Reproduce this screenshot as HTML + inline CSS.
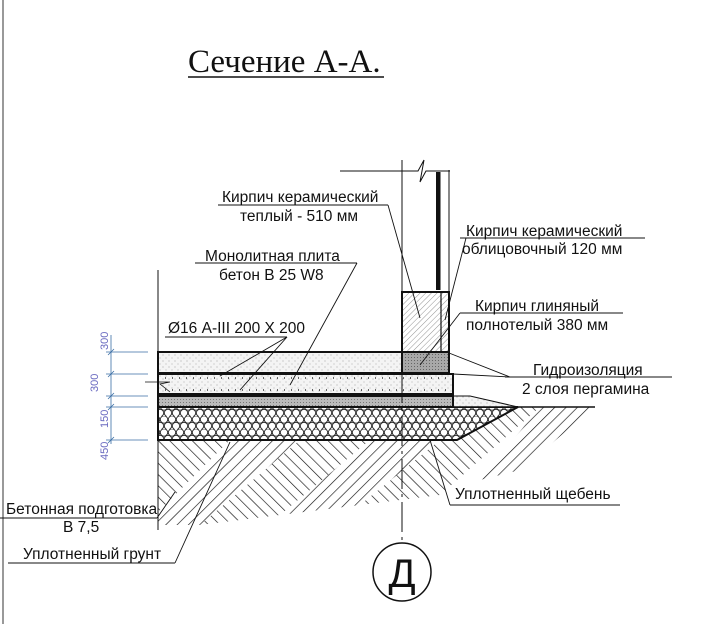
<!DOCTYPE html>
<html><head><meta charset="utf-8"><style>
html,body{margin:0;padding:0;background:#fff}
svg{display:block}
text{font-family:"Liberation Sans",sans-serif;font-size:15.5px;fill:#111}
</style></head><body>
<svg width="702" height="624" viewBox="0 0 702 624" xmlns="http://www.w3.org/2000/svg">
<defs>
<pattern id="dots" width="6" height="6" patternUnits="userSpaceOnUse">
<rect width="6" height="6" fill="#f4f4f4"/><circle cx="1" cy="1" r="0.5" fill="#888"/><circle cx="4" cy="4" r="0.5" fill="#999"/></pattern>
<pattern id="gray" width="3" height="3" patternUnits="userSpaceOnUse">
<rect width="3" height="3" fill="#bbb"/><rect width="1" height="1" fill="#777"/></pattern>
<pattern id="dgray" width="3" height="3" patternUnits="userSpaceOnUse">
<rect width="3" height="3" fill="#a8a8a8"/><rect width="1" height="1" fill="#666"/></pattern>
<pattern id="brick" width="4" height="4" patternUnits="userSpaceOnUse" patternTransform="rotate(45)">
<rect width="4" height="4" fill="#fff"/><line x1="0" y1="0" x2="0" y2="4" stroke="#777" stroke-width="0.8"/></pattern>
<pattern id="grav" width="16" height="13" patternUnits="userSpaceOnUse">
<rect width="16" height="13" fill="#fff"/>
<circle cx="4" cy="3.5" r="3.7" fill="none" stroke="#222" stroke-width="0.9"/>
<circle cx="12" cy="3.5" r="3.7" fill="none" stroke="#222" stroke-width="0.9"/>
<circle cx="8" cy="10" r="3.7" fill="none" stroke="#222" stroke-width="0.9"/>
<circle cx="0" cy="10" r="3.7" fill="none" stroke="#222" stroke-width="0.9"/>
<circle cx="16" cy="10" r="3.7" fill="none" stroke="#222" stroke-width="0.9"/></pattern>
<pattern id="h1" width="8" height="8" patternUnits="userSpaceOnUse" patternTransform="rotate(45)">
<line x1="0" y1="0" x2="0" y2="8" stroke="#111" stroke-width="1.3"/></pattern>
<pattern id="h2" width="8" height="8" patternUnits="userSpaceOnUse" patternTransform="rotate(-45)">
<line x1="0" y1="0" x2="0" y2="8" stroke="#111" stroke-width="1.3"/></pattern>
</defs>
<line x1="3" y1="0" x2="3" y2="624" stroke="#333"/>
<text x="188" y="72" style="font-family:'Liberation Serif',serif;font-size:33px">Сечение А-А.</text>
<line x1="188" y1="77" x2="384" y2="77" stroke="#111" stroke-width="1.5"/>
<polygon points="158,440 230,440 158,512" fill="url(#h2)"/>
<polygon points="230,440 300,440 200,525 158,525 158,512" fill="url(#h1)"/>
<polygon points="300,440 370,440 280,515 200,525" fill="url(#h2)"/>
<polygon points="370,440 440,440 360,505 280,515" fill="url(#h1)"/>
<polygon points="440,440 457,440 518,407 540,407 440,495 360,505" fill="url(#h2)"/>
<polygon points="540,407 595,407 520,470 480,480" fill="url(#h1)"/>
<polygon points="158,407 518,407 457,440 158,440" fill="url(#grav)" stroke="#111" stroke-width="2"/>
<polygon points="453,396 470,396 518,407 453,407" fill="url(#dots)" stroke="#111" stroke-width="1"/>
<line x1="453" y1="407" x2="595" y2="407" stroke="#111" stroke-width="1.5"/>
<rect x="158" y="396" width="295" height="11" fill="url(#gray)" stroke="#111" stroke-width="2"/>
<rect x="158" y="374" width="295" height="20" fill="url(#dots)" stroke="#111" stroke-width="2"/>
<line x1="158" y1="378" x2="453" y2="378" stroke="#111" stroke-width="1.2" stroke-dasharray="1 6"/>
<line x1="158" y1="390" x2="453" y2="390" stroke="#111" stroke-width="1.2" stroke-dasharray="1 6"/>
<rect x="158" y="352" width="244" height="21" fill="url(#dots)" stroke="#111" stroke-width="2"/>
<rect x="402" y="352" width="47" height="21" fill="url(#dgray)" stroke="#111" stroke-width="2"/>
<rect x="402" y="292" width="47" height="60" fill="url(#brick)" stroke="#111" stroke-width="2"/>
<line x1="441" y1="292" x2="441" y2="352" stroke="#111" stroke-width="1.2"/>
<line x1="402" y1="160" x2="402" y2="292" stroke="#111"/>
<line x1="449" y1="170" x2="449" y2="292" stroke="#111"/>
<rect x="436" y="172" width="4.5" height="118" fill="#111"/>
<polyline points="340,171 418,171 424,160 420,182 426,171 450,171" fill="none" stroke="#111"/>
<line x1="158" y1="270" x2="158" y2="352" stroke="#111"/>
<line x1="158" y1="440" x2="158" y2="530" stroke="#111"/>
<line x1="402" y1="373" x2="402" y2="543" stroke="#111" stroke-dasharray="30 5 3 5"/>
<circle cx="402" cy="572" r="29" fill="#fff" stroke="#111" stroke-width="1.5"/>
<text x="402" y="587" text-anchor="middle" style="font-size:40px">Д</text>
<g stroke="#3a6ea5" stroke-width="0.8">
<line x1="111" y1="335" x2="111" y2="444"/>
<line x1="106" y1="352" x2="148" y2="352"/><line x1="106" y1="374" x2="148" y2="374"/>
<line x1="106" y1="396" x2="148" y2="396"/><line x1="106" y1="407" x2="148" y2="407"/>
<line x1="106" y1="440" x2="148" y2="440"/>
<line x1="108" y1="355" x2="114" y2="349"/><line x1="108" y1="377" x2="114" y2="371"/>
<line x1="108" y1="399" x2="114" y2="393"/><line x1="108" y1="410" x2="114" y2="404"/>
<line x1="108" y1="443" x2="114" y2="437"/>
</g>
<text transform="translate(108,350) rotate(-90)" style="font-size:11px;fill:#6a6ac0">300</text>
<text transform="translate(98,392) rotate(-90)" style="font-size:11px;fill:#6a6ac0">300</text>
<text transform="translate(108,428) rotate(-90)" style="font-size:11px;fill:#6a6ac0">150</text>
<text transform="translate(108,460) rotate(-90)" style="font-size:11px;fill:#6a6ac0">450</text>
<polyline points="145,382 170,382 160,384 170,392" fill="none" stroke="#111" stroke-width="0.8"/>
<g stroke="#111" stroke-width="0.9" fill="none">
<line x1="218" y1="205" x2="388" y2="205"/><line x1="388" y1="205" x2="420" y2="318"/>
<line x1="460" y1="238" x2="645" y2="238"/><line x1="466" y1="238" x2="445" y2="320"/>
<line x1="195" y1="263" x2="357" y2="263"/><line x1="357" y1="263" x2="290" y2="385"/>
<line x1="165" y1="337" x2="287" y2="337"/><line x1="287" y1="337" x2="220" y2="376"/><line x1="287" y1="337" x2="240" y2="390"/>
<line x1="460" y1="313" x2="623" y2="313"/><line x1="460" y1="313" x2="420" y2="365"/>
<line x1="505" y1="377" x2="672" y2="377"/><line x1="510" y1="377" x2="449" y2="353"/><line x1="510" y1="377" x2="453" y2="374"/>
<line x1="450" y1="505" x2="620" y2="505"/><line x1="450" y1="505" x2="430" y2="440"/>
<line x1="0" y1="518" x2="157" y2="518"/><line x1="157" y1="518" x2="175" y2="492"/>
<line x1="8" y1="563" x2="175" y2="563"/><line x1="175" y1="563" x2="230" y2="442"/>
</g>
<text x="222" y="202">Кирпич керамический</text>
<text x="240" y="221">теплый - 510 мм</text>
<text x="466" y="236">Кирпич керамический</text>
<text x="462" y="254">облицовочный  120 мм</text>
<text x="205" y="261">Монолитная плита</text>
<text x="219" y="280">бетон В 25 W8</text>
<text x="168" y="333">Ø16 А-III 200 Х 200</text>
<text x="475" y="311">Кирпич глиняный</text>
<text x="466" y="330">полнотелый 380 мм</text>
<text x="533" y="375">Гидроизоляция</text>
<text x="522" y="394">2 слоя пергамина</text>
<text x="455" y="499">Уплотненный щебень</text>
<text x="6" y="514">Бетонная подготовка</text>
<text x="63" y="532">В 7,5</text>
<text x="23" y="559">Уплотненный грунт</text>
</svg>
</body></html>
